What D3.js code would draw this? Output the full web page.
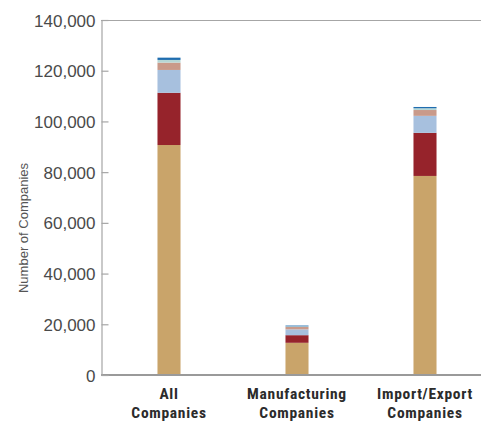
<!DOCTYPE html>
<html>
<head>
<meta charset="utf-8">
<script src="https://cdn.jsdelivr.net/npm/d3@7/dist/d3.min.js"></script>
<style>
  html, body { margin: 0; padding: 0; background: #fff; }
  svg { display: block; }
</style>
</head>
<body>
<svg id="chart" width="481" height="421"></svg>
<script>
// Categories (two-line labels)
const categories = ["All Companies", "Manufacturing Companies", "Import/Export Companies"];
const categoryLines = [["All", "Companies"], ["Manufacturing", "Companies"], ["Import/Export", "Companies"]];

// Stacked segments, bottom to top
const seriesNames = ["s1", "s2", "s3", "s4", "s5", "s6"];
const s1 = [90700, 12700, 78500];
const s2 = [20600, 3000, 17000];
const s3 = [9000, 2300, 6700];
const s4 = [2900, 1000, 2300];
const s5 = [1050, 200, 700];
const s6 = [900, 300, 500];
const seriesColors = ["#c9a46a", "#96232b", "#a7c0de", "#c99a8a", "#b6d7d6", "#1f6daf"];

const yTicks = [0, 20000, 40000, 60000, 80000, 100000, 120000, 140000];
const yTitle = "Number of Companies";

const seriesValues = [s1, s2, s3, s4, s5, s6];
const rows = categories.map((c, i) => {
  const r = { category: c };
  seriesNames.forEach((n, k) => { r[n] = seriesValues[k][i]; });
  return r;
});

const svg = d3.select("#chart");
const plotLeft = 101, plotRight = 481, plotTop = 20, plotBottom = 375;

const x = d3.scaleBand()
  .domain(categories)
  .range([105, 489])
  .paddingInner(0.82)
  .paddingOuter(0.41);

const y = d3.scaleLinear().domain([0, 140000]).range([plotBottom, plotTop]);

const stacked = d3.stack().keys(seriesNames)(rows);

// Bars
svg.append("g")
  .selectAll("g")
  .data(stacked)
  .join("g")
  .attr("fill", (d, i) => seriesColors[i])
  .selectAll("rect")
  .data(d => d)
  .join("rect")
  .attr("x", d => x(d.data.category))
  .attr("width", x.bandwidth())
  .attr("y", d => y(d[1]))
  .attr("height", d => y(d[0]) - y(d[1]));

// Frame lines: top and bottom run to the right edge
const axisColor = "#a6a6a6";
svg.append("line")
  .attr("x1", plotLeft).attr("x2", plotRight)
  .attr("y1", plotTop + 0.5).attr("y2", plotTop + 0.5)
  .attr("stroke", axisColor).attr("stroke-width", 1.2);
svg.append("line")
  .attr("x1", plotLeft).attr("x2", plotRight)
  .attr("y1", plotBottom).attr("y2", plotBottom)
  .attr("stroke", "#9a9a9a").attr("stroke-width", 2);

// Y axis with inward ticks
const yAxis = d3.axisRight(y)
  .tickValues(yTicks)
  .tickSize(7)
  .tickFormat(d3.format(","));
const gy = svg.append("g")
  .attr("transform", `translate(${plotLeft + 0.5},0)`)
  .call(yAxis);
gy.select(".domain").attr("stroke", axisColor).attr("stroke-width", 1.2);
gy.selectAll(".tick line").attr("stroke", axisColor).attr("stroke-width", 1.2);
gy.selectAll(".tick text")
  .attr("x", -6)
  .attr("dy", "0.36em")
  .attr("text-anchor", "end")
  .attr("fill", "#4a4a4a")
  .style("font-family", "'Liberation Sans', Arial, sans-serif")
  .style("font-size", "17px");

// Y axis title
svg.append("text")
  .attr("transform", `translate(28,228) rotate(-90)`)
  .attr("text-anchor", "middle")
  .attr("fill", "#555")
  .style("font-family", "'Liberation Sans', Arial, sans-serif")
  .style("font-size", "13px")
  .text(yTitle);

// Category labels, one text element per line
const labelLines = [];
categories.forEach((c, i) => {
  categoryLines[i].forEach((line, j) => labelLines.push({ c, line, j }));
});
svg.append("g")
  .selectAll("text")
  .data(labelLines)
  .join("text")
  .attr("x", d => x(d.c) + x.bandwidth() / 2)
  .attr("y", d => 399 + d.j * 18.5)
  .attr("text-anchor", "middle")
  .attr("fill", "#2b2b2b")
  .style("font-family", "'Liberation Sans Narrow', 'Roboto Condensed', Arial, sans-serif")
  .style("font-weight", "bold")
  .style("font-size", "15.5px")
  .style("letter-spacing", "0.7px")
  .text(d => d.line);
</script>
</body>
</html>
